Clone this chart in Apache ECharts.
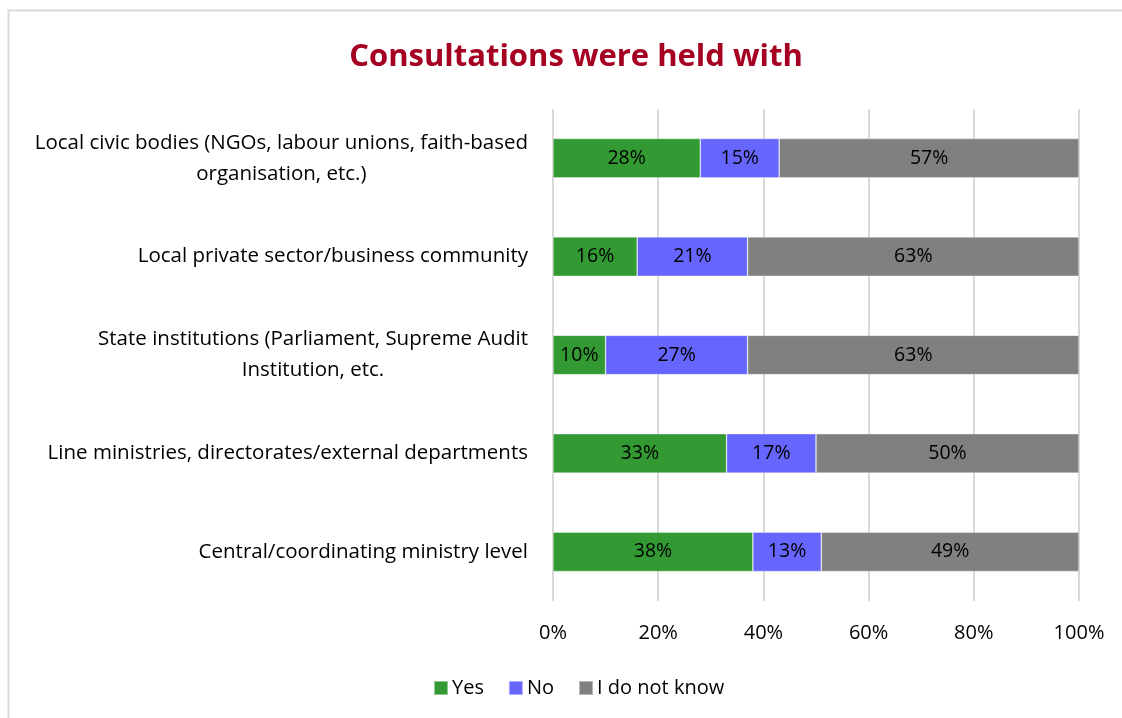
<!DOCTYPE html>
<html>
<head>
<meta charset="utf-8">
<script src="https://cdn.jsdelivr.net/npm/echarts@6/dist/echarts.min.js"></script>
<style>
  html, body { margin: 0; padding: 0; background: #fff; }
  #chart { width: 1122px; height: 718px; }
</style>
</head>
<body>
<div id="chart"></div>
<script>
// Categories listed top to bottom
const categories = [
  'Local civic bodies (NGOs, labour unions, faith-based\norganisation, etc.)',
  'Local private sector/business community',
  'State institutions (Parliament, Supreme Audit\nInstitution, etc.',
  'Line ministries, directorates/external departments',
  'Central/coordinating ministry level'
];
const yesValues = [28, 16, 10, 33, 38];
const noValues = [15, 21, 27, 17, 13];
const unknownValues = [57, 63, 63, 50, 49];
const seriesNames = ['Yes', 'No', 'I do not know'];
const seriesColors = ['#339933', '#6666FF', '#808080'];
const tickValues = [0, 20, 40, 60, 80, 100];

const FONT = 'Open Sans';
const chart = echarts.init(document.getElementById('chart'), null, { renderer: 'canvas' });

function barSeries(name, data, color) {
  return {
    name: name,
    type: 'bar',
    stack: 'total',
    data: data,
    barWidth: '40%',
    itemStyle: { color: color, borderColor: 'rgba(255,255,255,0.45)', borderWidth: 0.7 },
    label: {
      show: true,
      position: 'inside',
      formatter: p => p.value + '%',
      color: '#000',
      fontFamily: FONT,
      fontSize: 19.5
    },
    emphasis: { disabled: true }
  };
}

chart.setOption({
  animation: false,
  backgroundColor: '#fff',
  title: {
    text: 'Consultations were held with',
    left: 571,
    textAlign: 'center',
    top: 37,
    textStyle: { color: '#A50021', fontFamily: FONT, fontWeight: 'bold', fontSize: 31 }
  },
  legend: {
    data: seriesNames,
    bottom: 15,
    left: 428,
    itemWidth: 14,
    itemHeight: 14,
    itemGap: 24,
    icon: 'rect',
    textStyle: { fontFamily: FONT, fontSize: 20, color: '#000', padding: [0, 0, 0, -1] }
  },
  grid: { left: 553, right: 43, top: 109, bottom: 117, containLabel: false },
  xAxis: {
    type: 'value',
    min: 0,
    max: 100,
    interval: 20,
    axisLine: { show: false },
    axisTick: { show: false },
    splitLine: { lineStyle: { color: '#d9d9d9', width: 2 } },
    axisLabel: {
      formatter: v => tickValues.includes(v) ? v + '%' : '',
      fontFamily: FONT,
      fontSize: 20,
      color: '#000',
      margin: 22
    }
  },
  yAxis: {
    type: 'category',
    data: categories,
    inverse: true,
    axisLine: { show: false },
    axisTick: { show: false },
    axisLabel: {
      // each line centred within the label block
      formatter: v => v.split('\n').map(s => '{c|' + s + '}').join('\n'),
      margin: 25,
      align: 'right',
      rich: {
        c: { align: 'center', fontFamily: FONT, fontSize: 20.5, color: '#000', lineHeight: 31 }
      }
    }
  },
  series: [
    barSeries(seriesNames[0], yesValues, seriesColors[0]),
    barSeries(seriesNames[1], noValues, seriesColors[1]),
    barSeries(seriesNames[2], unknownValues, seriesColors[2])
  ],
  graphic: [{
    type: 'rect',
    silent: true,
    shape: { x: 8.5, y: 10.5, width: 1300, height: 900 },
    style: { fill: 'none', stroke: '#d9d9d9', lineWidth: 2 }
  }]
});
</script>
</body>
</html>
